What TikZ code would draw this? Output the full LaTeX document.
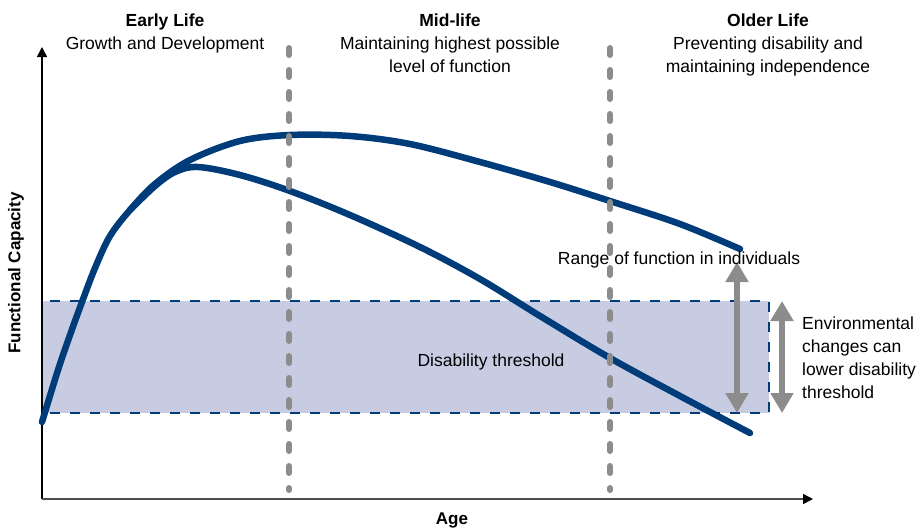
\documentclass[tikz,border=0pt]{standalone}
\usepackage{fontspec}
\setmainfont{Liberation Sans}
\usepackage{xcolor}
\usepackage{tikz}
\usetikzlibrary{arrows.meta,positioning}
\definecolor{navy}{HTML}{003B7A}
\definecolor{bandfill}{HTML}{C8CCE2}
\definecolor{midgray}{HTML}{8C8C8C}

\begin{document}
\begin{tikzpicture}[x=1pt,y=-1pt,
		txt/.style={inner sep=0pt,font=\fontsize{17.5}{23}\selectfont},
		axislbl/.style={inner sep=0pt,font=\fontsize{17}{20}\selectfont\bfseries},
		curve/.style={navy,line width=6.5pt,line cap=round,line join=round},
		phase/.style={midgray,line width=6pt,line cap=round,dash pattern=on 7pt off 15pt},
		spanarrow/.style={midgray,line width=6pt,{Triangle[width=22pt,length=20pt]}-{Triangle[width=22pt,length=20pt]}}]
		\useasboundingbox (0,0) rectangle (918,531);
		\coordinate (origin) at (42,499);
		\coordinate (ytop) at (42,47);
		\coordinate (xend) at (813,499);
		% disability band
		\fill[bandfill] (42,301) rectangle (769,413);
		\draw[navy,line width=1.3pt,dash pattern=on 10pt off 10pt] (42,301) rectangle (769,413);
		% axes
		\draw[line width=1.5pt,-{Triangle[length=10pt,width=10pt]}] (origin) -- (ytop);
		\draw[black!70,line width=1.5pt,-{Triangle[length=10pt,width=10pt,black]}] (origin) -- (xend);
		% functional capacity curves
		\draw[curve] plot[smooth,tension=0.55] coordinates {(42,422) (58,370) (70,335) (82,302) (95,268) (110,236) (130,210) (155,184) (190,160) (240,141) (290,135) (350,136) (410,144) (480,162) (550,182) (610,201) (680,224) (740,249)};
		\draw[curve] plot[smooth,tension=0.55] coordinates {(130,210) (155,186) (175,172) (198,167) (240,175) (290,191) (350,215) (420,247) (480,279) (540,316) (610,358) (680,396) (750,433)};
		% range arrows
		\coordinate (rtop) at (737,262);
		\coordinate (rbot) at (737,413);
		\coordinate (etop) at (782,301);
		\coordinate (ebot) at (782,413);
		\draw[spanarrow] (rtop) -- (rbot);
		\draw[spanarrow] (etop) -- (ebot);
		% labels
		\node[txt,align=center,anchor=north] (early) at (165,14) {\textbf{Early Life}\\Growth and Development};
		\node[txt,align=center,anchor=north] (mid) at (450,14) {\textbf{Mid-life}\\Maintaining highest possible\\level of function};
		\node[txt,align=center,anchor=north] (older) at (768,14) {\textbf{Older Life}\\Preventing disability and\\maintaining independence};
		\node[txt,anchor=base] (rangetxt) at (679,264) {Range of function in individuals};
		\node[txt] (threshold) at (491,362) {Disability threshold};
		\node[txt,align=left,anchor=north west] (envtxt) at (802,317) {Environmental\\changes can\\lower disability\\threshold};
		\node[axislbl,rotate=90] (ylabel) at (16,273) {Functional Capacity};
		\node[axislbl] (xlabel) at (452,520) {Age};
		% life stage dividers
		\draw[phase] (289,48) -- (289,490);
		\draw[phase] (610,48) -- (610,490);
	\end{tikzpicture}
\end{document}
